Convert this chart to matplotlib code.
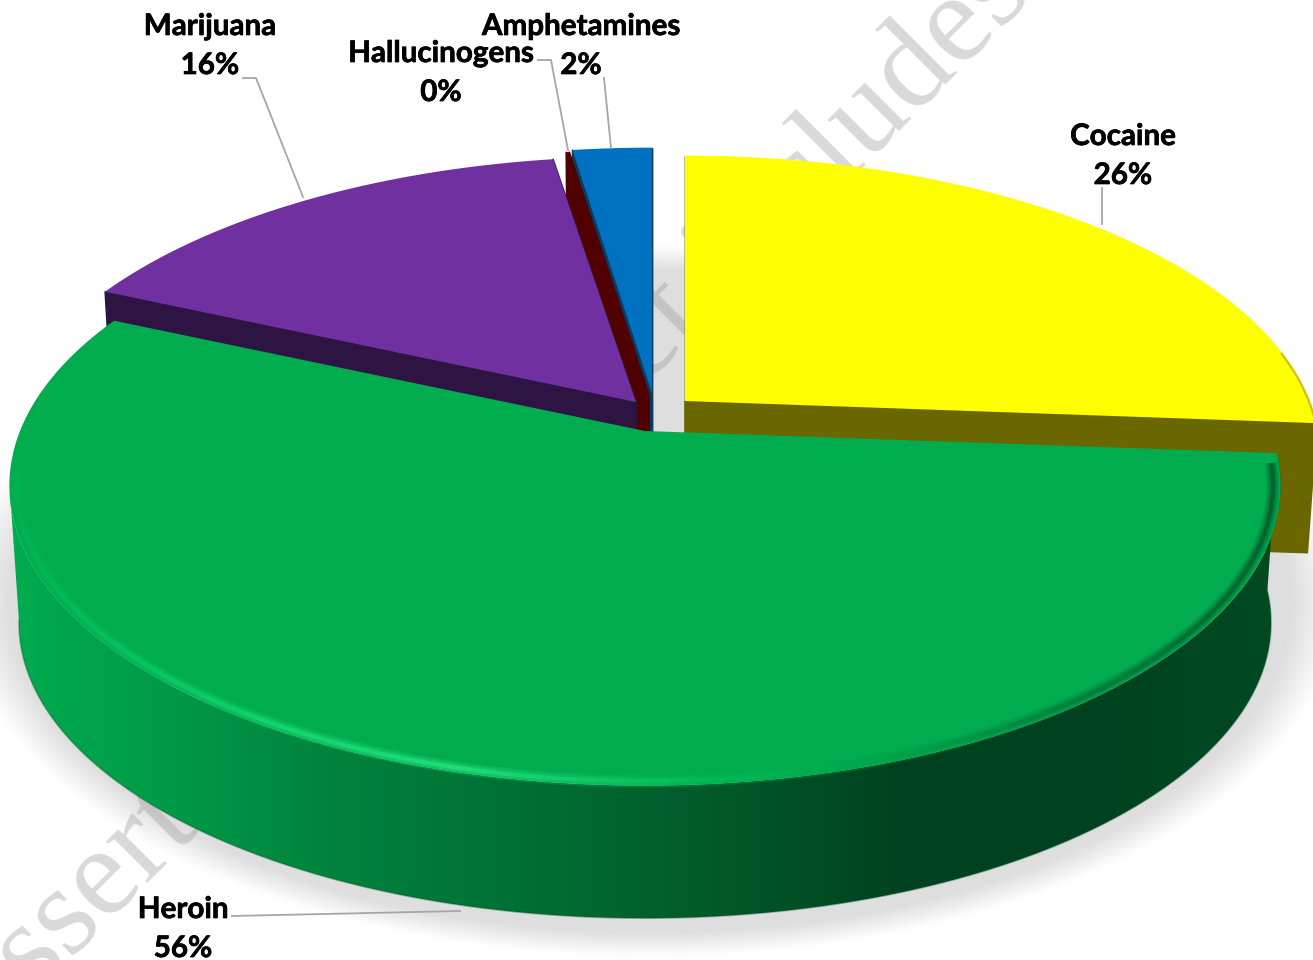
import numpy as np
import matplotlib
matplotlib.use("Agg")
import matplotlib.pyplot as plt
import matplotlib.patheffects as pe
from matplotlib.collections import LineCollection
from matplotlib.colors import LinearSegmentedColormap, to_rgb
from matplotlib.patches import Polygon

names = ["Cocaine", "Heroin", "Marijuana", "Hallucinogens", "Amphetamines"]
values = [26.2, 55.5, 15.8, 0.1, 2.4]

top_colors = ["#ffff00", "#00ac4e", "#7030a0", "#500000", "#0070c0"]
side_colors = ["#6a6600", "#00ac4e", "#2d1442", "#500000", "#0a3a5c"]

# apex of each slice on the page (the pie is exploded a bit)
apex = [(685, 401), (645, 431), (636, 402), (649, 395), (652, 393)]

# perspective of the disc
rx, ry, k = 625.0, 290.0, 0.182
depth, cut_depth, shrink = 138.0, 130.0, 0.985

# label anchors and leader lines
label_pos = [(1123, 136), (183, 909), (210, 26), (441, 53), (581, 26)]
leaders = [
    [(1102, 188), (1102, 224)],
    [(232, 916), (460, 911)],
    [(243, 78), (256, 78), (303, 197)],
    [(538, 60), (551, 60), (568, 150)],
    [(604, 78), (611, 148)],
]

# side wall shading, left to right
wall_x = [0.0, 0.12, 0.25, 0.40, 0.55, 0.70, 0.85, 1.0]
wall_c = ["#00ab4f", "#009a48", "#00833d", "#006f34", "#005a2a", "#00421f", "#00421f", "#004a22"]
# bevel on the front rim, left to right
rim_x = [0.0, 0.03, 0.2, 0.35, 0.55, 0.7, 0.85, 1.0]
rim_c = ["#00b052", "#00bc56", "#14d870", "#24e27e", "#00bd58", "#00a048", "#007a3a", "#005a2b"]


def project(ang, c, s=1.0, h=0.0):
    a = np.radians(ang)
    x, y = np.sin(a), np.cos(a)
    w = 1 + k * y
    return c[0] + s * rx * x / w, c[1] - s * ry * y / w + h


def arc(a0, a1, c, s=1.0, h=0.0):
    t = np.linspace(a0, a1, 240)
    return np.column_stack(project(t, c, s, h))


fig = plt.figure(figsize=(13.13, 9.6), dpi=100)
ax = fig.add_axes([0, 0, 1, 1])
ax.set_xlim(0, 1313)
ax.set_ylim(960, 0)
ax.axis("off")

# soft shadow under the pie
gx, gy = np.meshgrid(np.arange(0, 1313, 2), np.arange(0, 960, 2))
d = np.sqrt(((gx - 650) / 668.0) ** 2 + ((gy - 600) / 345.0) ** 2)
shadow = np.zeros(d.shape + (4,))
shadow[..., :3] = to_rgb("#dedede")
shadow[..., 3] = np.clip((1.03 - d) / 0.07, 0, 1)
ax.imshow(shadow, extent=(0, 1313, 960, 0), aspect="auto", zorder=1)

# watermark
ax.text(-56, 1086, "Dissertation Abstract includes", family="Liberation Serif", fontsize=92.5,
        rotation=45, rotation_mode="anchor", ha="left", va="baseline",
        color="#9a9a9a", alpha=0.38, zorder=2, clip_on=True)

# slice angles, clockwise from twelve o'clock
edges = np.concatenate([[0], np.cumsum(values)]) / sum(values) * 360.0

z = 3
for i in [0, 4, 3, 2, 1]:
    a0, a1 = edges[i], edges[i + 1]
    c = apex[i]
    if names[i] == "Heroin":
        # outer wall with gradient, from the right end round to the leftmost point of the rim
        top = arc(a0, 260, c)
        bot = arc(a0, 260, c, shrink, depth)
        wall = Polygon(np.vstack([top, bot[::-1]]), closed=True, transform=ax.transData,
                       facecolor="none", edgecolor="none")
        ax.add_patch(wall)
        cmap = LinearSegmentedColormap.from_list("wall", list(zip(wall_x, wall_c)))
        img = ax.imshow(np.linspace(0, 1, 400)[None, :], cmap=cmap, vmin=0, vmax=1,
                        extent=(10, 1285, 960, 300), aspect="auto", zorder=z)
        img.set_clip_path(wall)
        ax.plot(bot[:, 0], bot[:, 1], color="#004f26", lw=1.2, alpha=0.35, zorder=z)
    else:
        for ang in (a0, a1):
            p = project(ang, c)
            q = project(ang, c, shrink, cut_depth)
            ax.add_patch(Polygon([c, p, q, (c[0], c[1] + cut_depth)], closed=True,
                                 facecolor=side_colors[i], edgecolor=side_colors[i],
                                 lw=1, joinstyle="round", zorder=z))
    z += 1
    pts = np.vstack([[c], arc(a0, a1, c)])
    ax.add_patch(Polygon(pts, closed=True, facecolor=top_colors[i], edgecolor="none", zorder=z))
    z += 1

# bevel round the front of the heroin slice, soft edge from a few wide strokes
i_h = names.index("Heroin")
rim_cmap = LinearSegmentedColormap.from_list("rim", list(zip(rim_x, rim_c)))
rim = arc(edges[i_h] + 2, 262, apex[i_h], 0.988)
segs = np.stack([rim[:-1], rim[1:]], axis=1)
seg_cols = rim_cmap((segs[:, 0, 0] - 10) / 1275.0)
for lw, al in [(9, 0.25), (6, 0.35), (3, 0.8)]:
    cols = seg_cols.copy()
    cols[:, 3] = al
    ax.add_collection(LineCollection(segs, colors=cols, linewidths=lw, capstyle="butt", zorder=z))

# dark edge on the outer end of the yellow slice
i_c = names.index("Cocaine")
ax.plot(*arc(edges[i_c + 1] - 14, edges[i_c + 1], apex[i_c], 0.998).T, color="#c8c400", lw=1.5, zorder=z)

# labels
bold = [pe.withStroke(linewidth=0.5, foreground="black")]
for name, val, pos in zip(names, values, label_pos):
    ax.text(pos[0], pos[1], name, family="Lato", weight="bold", fontsize=21.3,
            ha="center", va="center", color="black", zorder=z + 2, path_effects=bold)
    ax.text(pos[0], pos[1] + 39, "%.0f%%" % val, family="Lato", weight="bold", fontsize=21.3,
            ha="center", va="center", color="black", zorder=z + 2, path_effects=bold, clip_on=False)

for line in leaders:
    xs, ys = zip(*line)
    ax.plot(xs, ys, color="#a6a6a6", lw=1.3, zorder=z + 1)

fig.savefig("out.png", dpi=100)
